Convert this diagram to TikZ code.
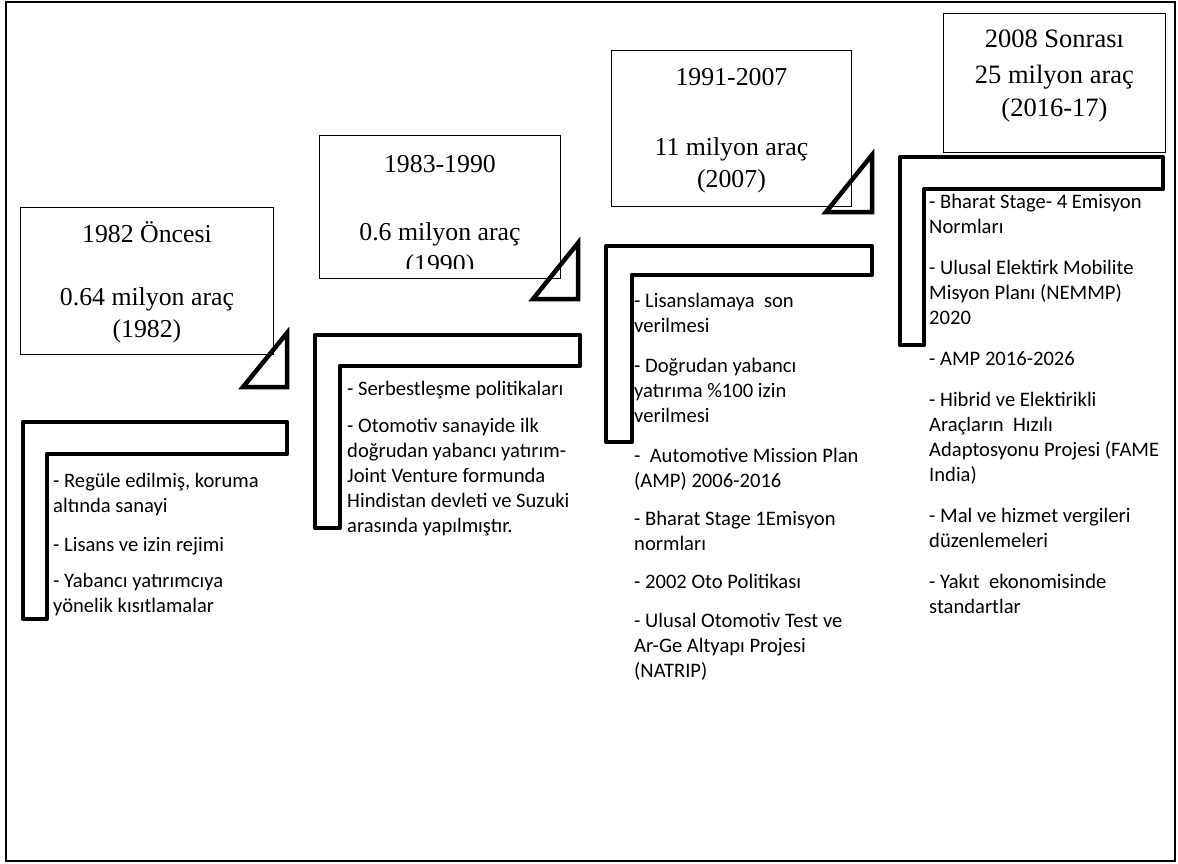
\documentclass[tikz,border=0pt]{standalone}
\usepackage{fontspec}
\setmainfont{Liberation Serif}
\newfontfamily\calfont{Carlito}
\usetikzlibrary{positioning}

\begin{document}
\begin{tikzpicture}[x=1pt,y=-1pt,
	bstyle/.style 2 args={draw, fill=white, line width=0.9pt, anchor=north west,
	inner sep=0pt, minimum width=#1, minimum height=#2},
	ystyle/.style={align=center, inner sep=0pt, anchor=north,
	font=\fontsize{25.8}{32}\selectfont},
	lstyle/.style={align=left, inner sep=0pt, anchor=north west,
	font=\calfont\fontsize{20.6}{25}\selectfont},
	sstyle/.style={line width=4.5pt, line join=round},
	tstyle/.style={line width=4.5pt}
	]
	\useasboundingbox (0,0) rectangle (1178,864);
	\draw[line width=1.8pt] (6,2) rectangle (1175,861);

	\node[bstyle={253}{147}] (b1) at (20,207) {};
	\node[ystyle, below=12.6pt of b1.north] (y1) {\strut 1982 Öncesi\\[31pt]0.64 milyon araç\\(1982)};

	\node[bstyle={241}{143}] (b2) at (319,135) {};
	\begin{scope}
	\clip (319,135) rectangle (560,268);
	\node[ystyle, below=14.6pt of b2.north] (y2) {\strut 1983-1990\\[36pt]0.6 milyon araç\\(1990)};
	\end{scope}

	\node[bstyle={240}{156}] (b3) at (611,50) {};
	\node[ystyle, below=12.6pt of b3.north] (y3) {\strut 1991-2007\\[38pt]11 milyon araç\\(2007)};

	\node[bstyle={222}{139}] (b4) at (943,13) {};
	\node[ystyle, font=\fontsize{26.5}{33}\selectfont, below=10.9pt of b4.north] (y4) {\strut 2008 Sonrası\\[3pt]25 milyon araç\\(2016-17)};

	\draw[tstyle] (243,387) -- (287,387) -- (287,333) -- cycle;
	\draw[tstyle] (533,299) -- (578,299) -- (578,243) -- cycle;
	\draw[tstyle] (826,212) -- (872,212) -- (872,155) -- cycle;

	\draw[sstyle] (23,422) -- (287,422) -- (287,454) -- (47,454) -- (47,619) -- (23,619) -- cycle;
	\draw[sstyle] (315,335) -- (580,335) -- (580,366) -- (340,366) -- (340,528) -- (315,528) -- cycle;
	\draw[sstyle] (606,246) -- (872,246) -- (872,275) -- (632,275) -- (632,442) -- (606,442) -- cycle;
	\draw[sstyle] (900,157) -- (1163,157) -- (1163,189) -- (924,189) -- (924,345) -- (900,345) -- cycle;

	\node[lstyle] (l1) at (53,469.5) {\strut- Regüle edilmiş, koruma\\altında sanayi\\[14pt]- Lisans ve izin rejimi\\[11pt]- Yabancı yatırımcıya\\yönelik kısıtlamalar};
	\node[lstyle] (l2) at (347,377.5) {\strut- Serbestleşme politikaları\\[12pt]- Otomotiv sanayide ilk\\doğrudan yabancı yatırım-\\Joint Venture formunda\\Hindistan devleti ve Suzuki\\arasında yapılmıştır.};
	\node[lstyle] (l3) at (634,289.5) {\strut- Lisanslamaya\ \ son\\verilmesi\\[15pt]- Doğrudan yabancı\\yatırıma \%100 izin\\verilmesi\\[15pt]-\ \ Automotive Mission Plan\\(AMP) 2006-2016\\[13pt]- Bharat Stage 1Emisyon\\normları\\[13pt]- 2002 Oto Politikası\\[14pt]- Ulusal Otomotiv Test ve\\Ar-Ge Altyapı Projesi\\(NATRIP)};
	\node[lstyle] (l4) at (929,190.5) {\strut- Bharat Stage- 4 Emisyon\\Normları\\[16pt]- Ulusal Elektirk Mobilite\\Misyon Planı (NEMMP)\\2020\\[16pt]- AMP 2016-2026\\[16pt]- Hibrid ve Elektirikli\\Araçların\ \ Hızılı\\Adaptosyonu Projesi (FAME\\India)\\[16pt]- Mal ve hizmet vergileri\\düzenlemeleri\\[16pt]- Yakıt\ \ ekonomisinde\\standartlar};
\end{tikzpicture}
\end{document}
